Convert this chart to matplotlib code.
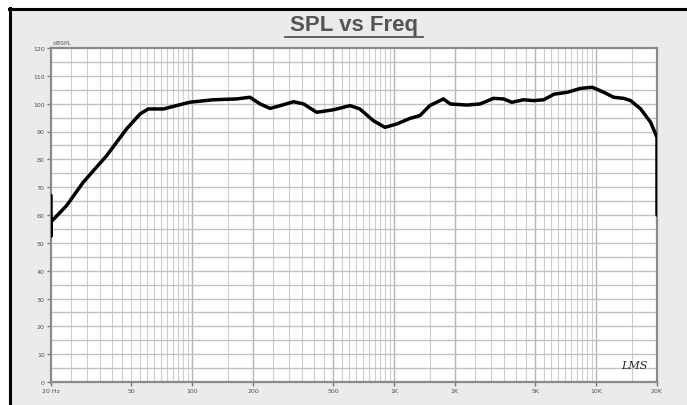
import numpy as np
import matplotlib.pyplot as plt
from matplotlib.lines import Line2D
from matplotlib.patches import Rectangle

# frequency response
freq_hz = [20, 20, 20, 23.9, 28.9, 37.7, 47.3, 55.2, 60.6, 72, 97, 127, 166, 193,
           217, 243, 273, 318, 356, 413, 500, 605, 676, 788, 900, 1030, 1196,
           1340, 1500, 1753, 1893, 2290, 2662, 3100, 3480, 3820, 4370, 4900,
           5500, 6180, 7200, 8380, 9560, 10900, 12200, 13700, 14800, 16600,
           18600, 20000, 20000]
spl_db = [67, 52.5, 57.5, 63.4, 71.8, 81.3, 90.9, 96.3, 98.1, 98.1, 100.5,
          101.4, 101.7, 102.3, 99.9, 98.3, 99.3, 100.7, 99.9, 96.9, 97.8, 99.3,
          98.1, 93.9, 91.5, 92.7, 94.7, 95.7, 99.3, 101.7, 99.9, 99.5, 99.9,
          101.9, 101.7, 100.5, 101.4, 101.1, 101.4, 103.4, 104.1, 105.5, 105.9,
          104.1, 102.3, 101.9, 101.1, 98.1, 93.3, 87.9, 60]

x_ticks = [20, 50, 100, 200, 500, 1000, 2000, 5000, 10000, 20000]
x_labels = ["20 Hz", "50", "100", "200", "500", "1K", "2K", "5K", "10K", "20K"]
y_ticks = list(range(0, 121, 10))

W, H = 687, 406
fig = plt.figure(figsize=(W / 100, H / 100), dpi=100, facecolor="white")

# gray panel with black frame on top and left
fig.patches.append(Rectangle((10 / W, 0), 1, 1 - 10 / H, transform=fig.transFigure,
                             facecolor="#ebebeb", edgecolor="none", zorder=-2))
fig.lines.append(Line2D([9 / W, 1], [1 - 9.5 / H, 1 - 9.5 / H], transform=fig.transFigure,
                        color="black", lw=2.2))
fig.lines.append(Line2D([9.5 / W, 9.5 / W], [0, 1 - 9 / H], transform=fig.transFigure,
                        color="black", lw=2.2))

ax = fig.add_axes([51 / W, 1 - 383 / H, (657 - 51) / W, (383 - 49) / H])
ax.set_facecolor("white")
ax.set_xscale("log")
ax.set_xlim(20, 20000)
ax.set_ylim(0, 120)

# grid: every half-step inside each decade in x, every 5 dB in y
grid_x = [m * 10 ** d for d in range(1, 5) for m in np.arange(1, 10, 0.5)]
grid_x = [g for g in grid_x if 20 < g < 20000]
for g in grid_x:
    ax.axvline(g, color="#cdcdcd", lw=0.8, zorder=1)
for g in [100, 200, 500, 1000, 2000, 5000, 10000]:
    ax.axvline(g, color="#b8b8b8", lw=1.0, zorder=1)
for g in range(5, 120, 5):
    ax.axhline(g, color="#c2c2c2", lw=1.0, zorder=1)

ax.plot(freq_hz, spl_db, color="black", lw=2.5, solid_joinstyle="round",
        solid_capstyle="round", zorder=3)

ax.set_xticks(x_ticks)
ax.set_xticklabels(x_labels)
ax.xaxis.set_minor_locator(plt.NullLocator())
ax.set_yticks(y_ticks)
ax.tick_params(axis="both", labelsize=4.5, labelcolor="#555555", color="#777777",
               length=3, width=1)
ax.tick_params(axis="x", pad=1.5)
ax.tick_params(axis="y", pad=1.5)
for s in ax.spines.values():
    s.set_color("#8a8a8a")
    s.set_linewidth(1.6)

ax.text(0.003, 1.008, "dBSPL", transform=ax.transAxes, fontsize=4.5,
        color="#555555", ha="left", va="bottom")
ax.text(0.985, 0.035, "LMS", transform=ax.transAxes, fontsize=8,
        style="italic", color="#222222", ha="right", va="bottom",
        family="DejaVu Serif")

fig.text(354 / W, 1 - 26 / H, "SPL vs Freq", fontsize=16, fontweight="bold",
         color="#555555", ha="center", va="center", family="Liberation Sans")
fig.lines.append(Line2D([285 / W, 423 / W], [1 - 38 / H, 1 - 38 / H],
                        transform=fig.transFigure, color="#555555", lw=1.3))

fig.savefig("out.png", dpi=100, facecolor="white")
